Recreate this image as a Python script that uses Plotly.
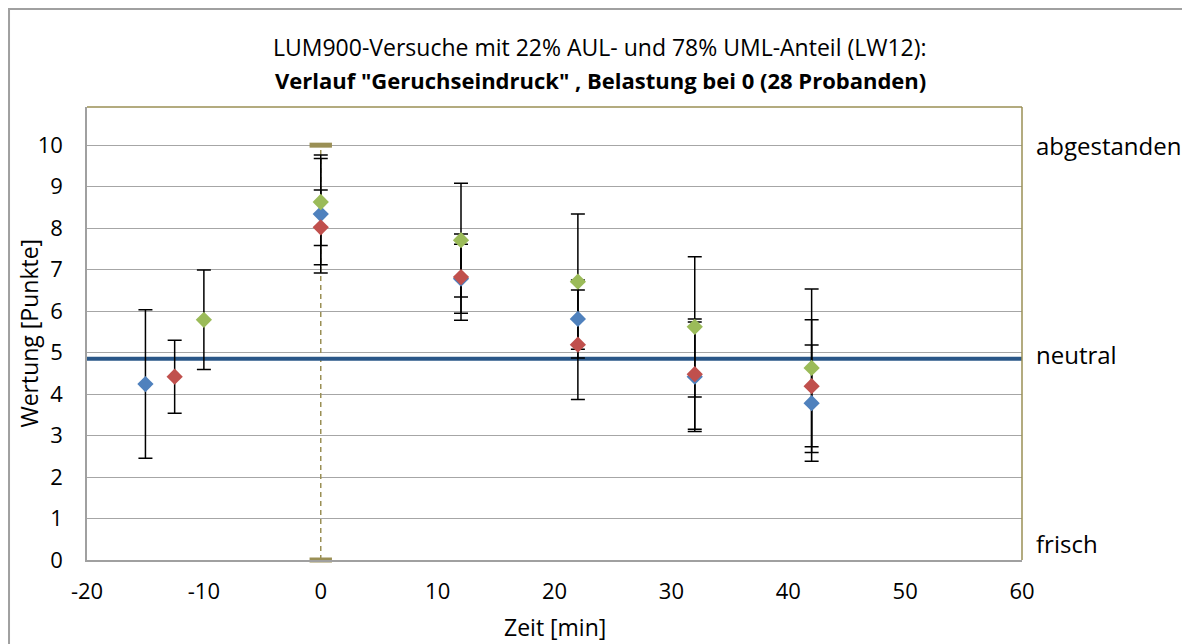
import plotly.graph_objects as go

# ---- data ----
title_line1 = "LUM900-Versuche mit 22% AUL- und 78% UML-Anteil (LW12):"
title_line2 = "Verlauf \"Geruchseindruck\" , Belastung bei 0 (28 Probanden)"

blue_x = [-15, 0, 12, 22, 32, 42]
blue_y = [4.24, 8.34, 6.78, 5.81, 4.42, 3.78]
blue_err = [1.79, 1.42, 0.83, 0.94, 1.32, 1.40]

red_x = [-12.5, 0, 12, 22, 32, 42]
red_y = [4.42, 8.02, 6.82, 5.19, 4.48, 4.19]
red_err = [0.88, 0.90, 1.04, 1.32, 1.33, 1.60]

green_x = [-10, 0, 12, 22, 32, 42]
green_y = [5.79, 8.63, 7.71, 6.71, 5.62, 4.63]
green_err = [1.20, 1.05, 1.37, 1.63, 1.69, 1.90]

load_x = [0, 0]
load_y = [0, 10]

neutral_x = [-20, 60]
neutral_level = 4.85

x_ticks = [-20, -10, 0, 10, 20, 30, 40, 50, 60]
x_tick_text = ["-20", "-10", "0", "10", "20", "30", "40", "50", "60"]
y_ticks = [0, 1, 2, 3, 4, 5, 6, 7, 8, 9, 10]

scale_labels = ["abgestanden", "neutral", "frisch"]
scale_label_y = [10, 4.96, 0.39]

# ---- styles ----
FONT = "Open Sans"
BLUE = "#4F81BD"
RED = "#C0504D"
GREEN = "#9BBB59"
OLIVE = "#9A8F55"
NEUTRAL = "#2A5788"
GRID = "#a6a6a6"

fig = go.Figure()

# loading marker (dashed vertical with caps)
fig.add_trace(go.Scatter(
    x=load_x, y=load_y, mode="lines+markers",
    line=dict(color=OLIVE, width=1.5, dash="5px,4px"),
    marker=dict(symbol="line-ew", size=16, line=dict(color=OLIVE, width=5)),
    showlegend=False, hoverinfo="skip", cliponaxis=False))

# neutral line
fig.add_trace(go.Scatter(
    x=neutral_x, y=[neutral_level] * len(neutral_x), mode="lines",
    line=dict(color=NEUTRAL, width=4), showlegend=False, hoverinfo="skip"))

series = [(blue_x, blue_y, blue_err, BLUE),
          (red_x, red_y, red_err, RED),
          (green_x, green_y, green_err, GREEN)]

# error bars first
for xs, ys, es, c in series:
    fig.add_trace(go.Scatter(
        x=xs, y=ys, mode="markers",
        marker=dict(size=1, color="rgba(0,0,0,0)"),
        error_y=dict(type="data", array=es, visible=True, color="#000000",
                     thickness=1.5, width=7),
        showlegend=False, hoverinfo="skip"))

# markers on top
for xs, ys, es, c in series:
    fig.add_trace(go.Scatter(
        x=xs, y=ys, mode="markers",
        marker=dict(symbol="diamond", size=12.5, color=c, line=dict(width=0)),
        showlegend=False))

annotations = [
    dict(text=title_line1, xref="paper", yref="paper", x=0.549, y=1.132,
         showarrow=False, font=dict(family=FONT, size=23, color="#000000"),
         xanchor="center", yanchor="middle"),
    dict(text="<b>" + title_line2 + "</b>", xref="paper", yref="paper", x=0.549, y=1.060,
         showarrow=False, font=dict(family=FONT, size=22, color="#000000"),
         xanchor="center", yanchor="middle"),
    dict(text="Wertung [Punkte]", xref="paper", yref="paper", x=-0.063, y=0.5,
         textangle=-90, showarrow=False, font=dict(family=FONT, size=23, color="#000000"),
         xanchor="center", yanchor="middle"),
    dict(text="Zeit [min]", xref="paper", yref="paper", x=0.5, y=-0.148,
         showarrow=False, font=dict(family=FONT, size=23, color="#000000"),
         xanchor="center", yanchor="middle"),
]
for lab, yv in zip(scale_labels, scale_label_y):
    annotations.append(dict(text=lab, xref="paper", yref="y", x=1.0125, y=yv,
                            showarrow=False, xanchor="left", yanchor="middle",
                            font=dict(family=FONT, size=24, color="#000000")))

shapes = [
    # olive top and right border of plot area
    dict(type="line", xref="paper", yref="paper", x0=0, x1=1, y0=1, y1=1,
         line=dict(color=OLIVE, width=1.5)),
    dict(type="line", xref="paper", yref="paper", x0=1, x1=1, y0=0, y1=1,
         line=dict(color=OLIVE, width=1.5)),
    # outer chart border
    dict(type="rect", xref="paper", yref="paper", x0=-0.0834, x1=1.1775, y0=-0.25, y1=1.2163,
         line=dict(color="#a0a0a0", width=2), layer="below"),
]

fig.update_layout(
    width=1182, height=636,
    margin=dict(l=79, r=168, t=99, b=84),
    paper_bgcolor="white", plot_bgcolor="white",
    font=dict(family=FONT, size=22, color="#000000"),
    showlegend=False,
    annotations=annotations,
    shapes=shapes,
    xaxis=dict(range=[-20, 60], tickvals=x_ticks, ticktext=x_tick_text,
               showgrid=False, zeroline=False,
               showline=True, linecolor="#a0a0a0", linewidth=1.5, ticks="",
               tickfont=dict(family=FONT, size=22), ticklabelstandoff=11),
    yaxis=dict(range=[0, 10.92], tickvals=y_ticks, showgrid=True, gridcolor=GRID,
               gridwidth=1, zeroline=False, showline=True, linecolor="#a0a0a0",
               linewidth=1.5, ticks="", tickfont=dict(family=FONT, size=22),
               ticklabelstandoff=18),
)

fig.write_html("out.html")
